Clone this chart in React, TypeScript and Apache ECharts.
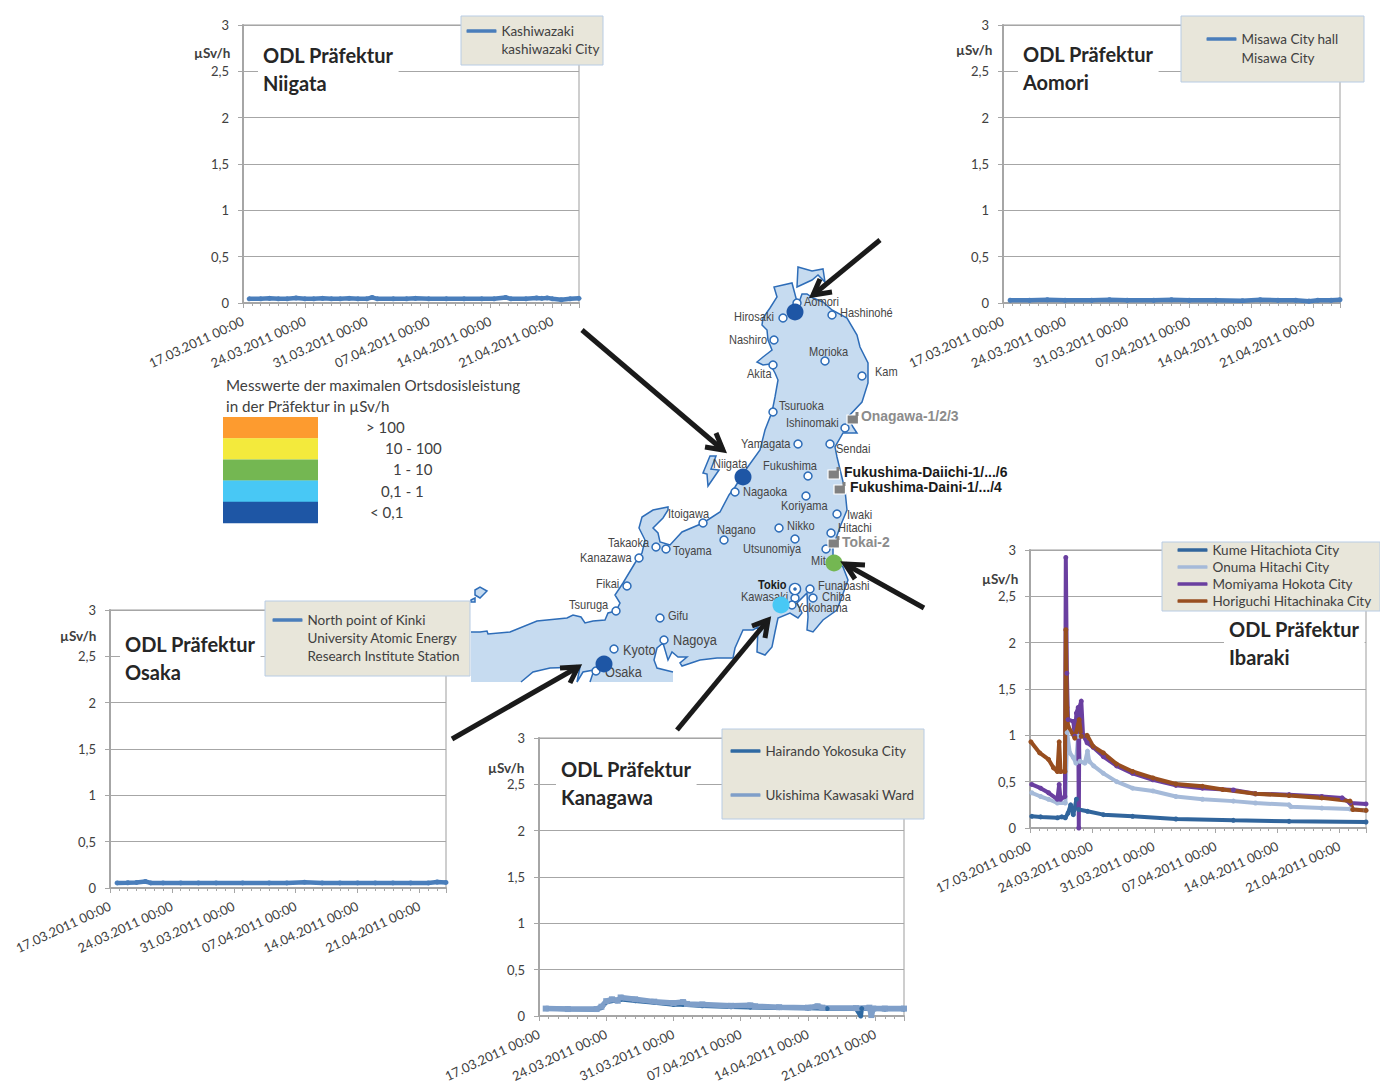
import React, { useEffect, useRef } from "react";
import * as echarts from "echarts";

const FONT = "Lato, 'Open Sans', sans-serif";
const MAPFONT = "'Liberation Sans', sans-serif";
const tickLabels = ["17.03.2011 00:00", "24.03.2011 00:00", "31.03.2011 00:00", "07.04.2011 00:00", "14.04.2011 00:00", "21.04.2011 00:00"];
const yTickValues = [0, 0.5, 1, 1.5, 2, 2.5, 3];

// x = days after 17.03.2011, y = µSv/h
const kashiwazaki = [[0.7,0.045],[2,0.045],[3,0.05],[4,0.045],[5,0.045],[6,0.055],[7,0.045],[8,0.045],[9,0.05],[10,0.045],[11,0.045],[12,0.05],[13,0.045],[14,0.045],[14.6,0.06],[15.2,0.045],[17,0.045],[18.5,0.045],[19.5,0.05],[21,0.045],[23,0.045],[25,0.045],[27,0.045],[28.4,0.045],[29.7,0.06],[30.3,0.045],[32,0.045],[33.2,0.055],[33.8,0.05],[34.4,0.055],[35,0.045],[36,0.035],[37,0.045],[38,0.05]];
const misawa = [[0.8,0.03],[3,0.03],[5,0.035],[7,0.03],[10,0.03],[12,0.035],[14,0.03],[17,0.03],[19,0.035],[21,0.03],[24,0.03],[27,0.025],[29,0.035],[31,0.03],[33,0.03],[34.5,0.02],[35.5,0.03],[37,0.03],[38,0.035]];
const kinki = [[0.8,0.055],[2,0.057],[3,0.06],[4,0.07],[4.6,0.055],[6,0.055],[8,0.055],[10,0.055],[12,0.055],[15,0.055],[18,0.055],[20,0.055],[22,0.063],[24,0.055],[26,0.055],[28,0.055],[30,0.055],[32,0.055],[34,0.055],[36,0.055],[37,0.065],[38,0.06]];
const hairando = [[0.7,0.08],[3,0.075],[6,0.07],[6.5,0.09],[7,0.15],[8,0.17],[8.5,0.18],[10,0.165],[12,0.145],[14,0.125],[15,0.125],[17,0.11],[20,0.1],[22,0.095],[25,0.09],[28,0.085],[30,0.08],[33,0.08],[33.5,0],[33.6,0.08],[36,0.075],[38,0.075]];
const ukishima = [[0.7,0.08],[3,0.075],[6,0.075],[6.5,0.1],[7,0.16],[7.6,0.18],[8.2,0.165],[8.5,0.2],[10,0.18],[12,0.155],[14,0.14],[15,0.15],[15.4,0.13],[17,0.125],[20,0.11],[22,0.115],[22.5,0.105],[25,0.095],[28,0.09],[29,0.105],[29.5,0.09],[33,0.085],[34.4,0.09],[34.6,0.01],[34.8,0.08],[36,0.08],[38,0.08]];
const kume = [[0.2,0.126],[1.2,0.12],[3.1,0.11],[3.6,0.12],[4,0.11],[4.3,0.16],[4.6,0.25],[4.9,0.144],[5.25,0.31],[5.5,0.2],[6.5,0.18],[8.3,0.144],[11.6,0.126],[16.5,0.097],[23,0.083],[29.3,0.072],[38,0.065]];
const onuma = [[0.2,0.38],[1.2,0.34],[2.1,0.31],[3.1,0.27],[4,0.27],[4.2,1.03],[4.5,0.81],[4.9,0.76],[5.2,0.7],[5.45,0.99],[5.65,0.72],[6.2,0.7],[6.5,0.83],[6.7,0.72],[7.2,0.67],[8.3,0.59],[9.8,0.5],[11.6,0.43],[13.9,0.4],[16.5,0.34],[19.5,0.31],[23,0.29],[25.5,0.27],[29.3,0.25],[29.5,0.23],[33,0.215],[36.2,0.205],[38,0.19]];
const momiyama = [[0.2,0.47],[1.2,0.43],[2.1,0.38],[3.1,0.31],[3.3,0.47],[3.45,0.31],[3.95,0.34],[4.05,2.92],[4.17,1.67],[4.3,1.17],[4.9,1.15],[5.07,0.99],[5.25,1.24],[5.45,1.3],[5.52,0],[5.58,1.3],[5.8,1.37],[6,1],[6.46,0.92],[7.15,0.87],[8.3,0.77],[9.8,0.67],[11.6,0.59],[13.9,0.52],[16.5,0.46],[19.5,0.43],[23,0.41],[25.5,0.37],[29.3,0.36],[33,0.34],[35.3,0.325],[36.2,0.27],[38,0.26]];
const horiguchi = [[0.1,0.93],[1.1,0.81],[2.1,0.74],[2.65,0.65],[3.1,0.61],[3.3,0.93],[3.45,0.61],[3.95,0.61],[4.05,2.14],[4.17,1.3],[4.3,1.1],[5.07,0.97],[5.56,1.17],[5.8,0.99],[6.46,1],[7.15,0.88],[8.3,0.81],[9.8,0.69],[11.6,0.61],[13.9,0.54],[16.5,0.475],[19.5,0.45],[21.8,0.415],[25.5,0.37],[29.3,0.35],[33,0.325],[36.2,0.29],[36.5,0.2],[38,0.19]];

const scaleColors = ["#fd9b2f", "#f3ea3c", "#74b752", "#48c8f5", "#1e56a5"];
const scaleLabels = ["> 100", "10 - 100", "1 - 10", "0,1 - 1", "< 0,1"];
const scaleTitle = ["Messwerte der maximalen Ortsdosisleistung", "in der Präfektur in µSv/h"];

const coast = [[471,632],[480,632],[487,631],[488,634],[510,632],[537,621],[567,618],[573,615],[581,617],[585,623],[593,621],[605,620],[608,613],[616,611],[620,603],[615,595],[623,583],[635,563],[642,553],[645,540],[639,528],[642,517],[653,510],[668,507],[668,510],[663,518],[653,528],[658,533],[660,542],[670,545],[682,532],[703,523],[720,512],[729,495],[735,487],[747,468],[760,450],[765,430],[772,412],[775,397],[778,380],[775,373],[770,364],[763,365],[757,362],[763,357],[772,350],[768,340],[767,330],[762,325],[763,318],[770,308],[777,297],[774,287],[783,285],[792,283],[796,298],[798,305],[802,294],[807,294],[813,298],[823,302],[832,310],[847,318],[857,335],[860,347],[868,363],[868,383],[862,402],[848,417],[853,427],[857,433],[843,433],[835,447],[837,457],[845,490],[847,510],[840,527],[833,547],[833,557],[843,567],[848,580],[837,610],[823,620],[813,632],[807,630],[808,617],[807,593],[797,603],[802,613],[798,618],[790,613],[778,618],[775,632],[772,647],[765,655],[757,652],[758,627],[753,630],[743,630],[735,648],[733,658],[717,658],[700,660],[682,666],[680,663],[687,657],[678,657],[672,652],[668,660],[663,643],[657,648],[654,660],[657,668],[673,672]];
const inlet = [[590,682],[594,670],[583,672],[577,682],[580,667],[550,668],[533,672],[521,682]];
const islands = [
  [[798,267],[812,271],[823,269],[825,282],[818,275],[812,280],[797,287]],
  [[710,456],[716,456],[711,469],[719,470],[708,486],[707,474],[703,473]],
  [[475,590],[480,587],[487,591],[480,598],[475,595]],
  [[471,600],[475,598],[475,602],[471,602]],
];
const cityDots = [[797,303],[783,318],[832,315],[774,340],[825,361],[773,365],[862,376],[773,412],[845,428],[798,444],[830,444],[808,476],[735,492],[806,496],[837,514],[703,523],[724,540],[779,528],[795,539],[831,533],[656,547],[666,549],[639,558],[826,549],[627,586],[810,589],[795,598],[813,598],[792,605],[616,611],[660,618],[664,640],[614,649],[596,671]];
const cityLabels: [string, number, number, number?][] = [["Aomori",804,302],["Hashinohé",840,313],["Hirosaki",734,317],["Nashiro",729,340],["Morioka",809,352],["Akita",747,374],["Kam",875,372],["Tsuruoka",779,406],["Ishinomaki",786,423],["Yamagata",741,444],["Sendai",836,449],["Niigata",713,464],["Fukushima",763,466],["Nagaoka",743,492],["Koriyama",781,506],["Iwaki",847,515],["Itoigawa",668,514],["Nagano",717,530],["Nikko",787,526],["Hitachi",838,528],["Takaoka",608,543],["Toyama",673,551],["Utsunomiya",743,549],["Kanazawa",580,558],["Mito",811,561],["Fikai",596,584],["Funabashi",818,586],["Kawasaki",741,597],["Chiba",822,597],["Yokohama",796,608],["Tsuruga",569,605],["Gifu",668,616],["Nagoya",673,640,15],["Kyoto",623,650,15],["Osaka",605,672,15]];
const plants: [string, number, number, number, number, string][] = [["Onagawa-1/2/3",861,416,847,413,"#8c8c8c"],["Fukushima-Daiichi-1/.../6",844,472,828,468,"#1a1a1a"],["Fukushima-Daini-1/.../4",850,487,834,483,"#1a1a1a"],["Tokai-2",842,542,828,537,"#8c8c8c"]];
const regionDots: [number, number, string][] = [[795,312,"#1e56a5"],[743,477,"#1e56a5"],[604,664,"#1e56a5"],[781,605,"#48c8f5"],[834,563,"#74b752"]];
const arrows = [
  [[582,330],[723,450],[705,447],[716,433]],
  [[880,240],[813,295],[832,292],[820,279]],
  [[452,739],[578,667],[560,668],[570,683]],
  [[677,730],[768,620],[752,626],[765,638]],
  [[924,608],[845,564],[865,565],[855,579]],
];

const axisGrey = "#a6a6a6";
const charts = [
  { l: 243, r: 579, t: 25, title: "ODL Präfektur\nNiigata", tx: 258, ty: 41, ux: 194, uy: 53 },
  { l: 1003, r: 1340, t: 25, title: "ODL Präfektur\nAomori", tx: 1018, ty: 40, ux: 956, uy: 50 },
  { l: 110, r: 446, t: 610, title: "ODL Präfektur\nOsaka", tx: 120, ty: 630, ux: 60, uy: 636 },
  { l: 539, r: 904, t: 738, title: "ODL Präfektur\nKanagawa", tx: 556, ty: 755, ux: 488, uy: 768 },
  { l: 1030, r: 1366, t: 550, title: "ODL Präfektur\nIbaraki", tx: 1224, ty: 615, ux: 982, uy: 579 },
];

const legends = [
  { names: ["Kashiwazaki\nkashiwazaki City"], left: 466.5, top: 4, lh: 18, gap: 0, lines: 2, box: [461, 16, 142, 49] },
  { names: ["Misawa City hall\nMisawa City"], left: 1206.5, top: 10.5, lh: 19, gap: 0, lines: 2, box: [1181, 16, 183, 66] },
  { names: ["North point of Kinki\nUniversity Atomic Energy\nResearch Institute Station"], left: 272.5, top: 575, lh: 18, gap: 0, lines: 3, box: [265, 601, 205, 75] },
  { names: ["Hairando Yokosuka City", "Ukishima Kawasaki Ward"], left: 730.5, top: 742, lh: 18, gap: 26, lines: 1, box: [722, 729, 202, 90] },
  { names: ["Kume Hitachiota City", "Onuma Hitachi City", "Momiyama Hokota City", "Horiguchi Hitachinaka City"], left: 1177.5, top: 541.5, lh: 17, gap: 0, lines: 1, box: [1162, 542, 218, 69] },
];

const seriesDefs = [
  { name: legends[0].names[0], idx: 0, data: kashiwazaki, color: "#4a7ebb", w: 4.5 },
  { name: legends[1].names[0], idx: 1, data: misawa, color: "#4a7ebb", w: 4.5 },
  { name: legends[2].names[0], idx: 2, data: kinki, color: "#4a7ebb", w: 4.5 },
  { name: legends[3].names[0], idx: 3, data: hairando, color: "#2f6aa3", w: 4.5 },
  { name: legends[3].names[1], idx: 3, data: ukishima, color: "#7f9fc9", w: 5.5, symbol: "rect" },
  { name: legends[4].names[0], idx: 4, data: kume, color: "#31659c", w: 4 },
  { name: legends[4].names[1], idx: 4, data: onuma, color: "#a5bad9", w: 4 },
  { name: legends[4].names[2], idx: 4, data: momiyama, color: "#6a3fa0", w: 4 },
  { name: legends[4].names[3], idx: 4, data: horiguchi, color: "#984e1f", w: 4 },
];

function buildGraphic() {
  const g: any[] = [];
  const txt = (text: string, x: number, y: number, o: any = {}) => ({
    type: "text", x, y, z: o.z ?? 7, scaleX: o.sx ?? 1,
    style: { text, fill: o.fill ?? "#404040", fontFamily: o.ff ?? FONT, fontSize: o.fs ?? 13, fontWeight: o.fw ?? "normal", verticalAlign: "middle", align: "left" },
  });
  g.push({ type: "polygon", z: 1, shape: { points: [...coast, [673, 682], ...inlet, [471, 682]] }, style: { fill: "#c6dbf0" } });
  g.push({ type: "polyline", z: 1, shape: { points: coast }, style: { stroke: "#2e6db8", lineWidth: 1.5, fill: "none" } });
  g.push({ type: "polyline", z: 1, shape: { points: inlet }, style: { stroke: "#2e6db8", lineWidth: 1.5, fill: "none" } });
  islands.forEach((p) => g.push({ type: "polygon", z: 1, shape: { points: p }, style: { fill: "#c6dbf0", stroke: "#2e6db8", lineWidth: 1.5 } }));
  cityDots.forEach(([cx, cy]) => g.push({ type: "circle", z: 1, shape: { cx, cy, r: 4 }, style: { fill: "#fff", stroke: "#2e6db8", lineWidth: 1.5 } }));
  g.push({ type: "circle", z: 1, shape: { cx: 795, cy: 589, r: 5.6 }, style: { fill: "#fff", stroke: "#2e6db8", lineWidth: 1.4 } });
  g.push({ type: "circle", z: 1, shape: { cx: 795, cy: 589, r: 1.8 }, style: { fill: "#2e6db8" } });
  cityLabels.forEach(([t, x, y, fs]) => g.push(txt(t, x, y - 0.5, { ff: MAPFONT, fs: fs ?? 13, fill: "#454545", sx: 0.85, z: 1 })));
  g.push(txt("Tokio", 758, 584.5, { ff: MAPFONT, fs: 13, fw: "bold", fill: "#1a1a1a", sx: 0.85, z: 1 }));
  regionDots.forEach(([cx, cy, c]) => g.push({ type: "circle", z: 2, shape: { cx, cy, r: 8.5 }, style: { fill: c } }));
  plants.forEach(([t, x, y, ix, iy, c]) => {
    g.push({ type: "rect", z: 2, shape: { x: ix, y: iy + 2, width: 11.5, height: 9 }, style: { fill: "#808080", stroke: "#fff", lineWidth: 1.2 } });
    g.push({ type: "rect", z: 2, shape: { x: ix + 8.5, y: iy - 1, width: 3, height: 4 }, style: { fill: "#808080" } });
    g.push(txt(t, x, y - 0.5, { ff: MAPFONT, fs: 15, fw: "bold", fill: c, sx: 0.93, z: 2 }));
  });
  arrows.forEach(([a, b, c, d]) => {
    g.push({ type: "line", z: 3, shape: { x1: a[0], y1: a[1], x2: b[0], y2: b[1] }, style: { stroke: "#1a1a1a", lineWidth: 5 } });
    g.push({ type: "polyline", z: 3, shape: { points: [c, b, d] }, style: { stroke: "#1a1a1a", lineWidth: 5, fill: "none" } });
  });
  scaleTitle.forEach((t, i) => g.push(txt(t, 226, 385 + i * 21, { fs: 15.2 })));
  const scaleX = [366, 385, 393, 381, 370];
  scaleColors.forEach((c, i) => {
    g.push({ type: "rect", z: 1, shape: { x: 223, y: 417 + i * 21.2, width: 95, height: 21.4 }, style: { fill: c } });
    g.push(txt(scaleLabels[i], scaleX[i], 427 + i * 21.2, { fs: 15 }));
  });
  charts.forEach((c) => g.push(txt("µSv/h", c.ux, c.uy, { fs: 13.5, fw: "bold" })));
  legends.forEach((l) => {
    const [x, y, width, height] = l.box;
    g.push({ type: "rect", z: 3, shape: { x, y, width, height }, style: { fill: "#e8e6da", stroke: "#b8cce4", lineWidth: 1 } });
  });
  return g;
}

function buildOption() {
  const H = 278;
  return {
    animation: false,
    backgroundColor: "#fff",
    grid: charts.map((c) => ({ left: c.l, top: c.t, width: c.r - c.l, height: H, show: true, borderColor: "#bfbfbf", borderWidth: 1.5, backgroundColor: "transparent" })),
    xAxis: charts.map((_, i) => ({
      type: "value", gridIndex: i, min: 0, max: 38, interval: 7,
      splitLine: { show: false },
      axisLine: { onZero: false, lineStyle: { color: axisGrey, width: 2 } },
      axisTick: { show: true, length: 5, lineStyle: { color: axisGrey } },
      minorTick: { show: true, splitNumber: 7, length: 3, lineStyle: { color: axisGrey } },
      axisLabel: { rotate: 25, margin: 17, color: "#404040", fontFamily: FONT, fontSize: 13, showMaxLabel: false, hideOverlap: false, formatter: (v: number) => tickLabels[v / 7] ?? "" },
    })),
    yAxis: charts.map((_, i) => ({
      type: "value", gridIndex: i, min: yTickValues[0], max: yTickValues[yTickValues.length - 1], interval: 0.5,
      splitLine: { show: true, lineStyle: { color: axisGrey, width: 1 } },
      axisLine: { show: true, onZero: false, lineStyle: { color: axisGrey, width: 2 } },
      axisTick: { show: true, length: 5, lineStyle: { color: axisGrey } },
      axisLabel: { margin: 14, color: "#404040", fontFamily: FONT, fontSize: 13, formatter: (v: number) => String(v).replace(".", ",") },
    })),
    title: charts.map((c) => ({
      text: c.title, left: c.tx, top: c.ty, padding: [0, 5, 0, 5], backgroundColor: "#fff", z: 2.5,
      textStyle: { fontFamily: FONT, fontWeight: "bold", fontSize: 20, lineHeight: 28, color: "#262626" },
    })),
    legend: legends.map((l) => ({
      data: l.names, left: l.left, top: l.top, orient: "vertical", padding: 0, icon: "roundRect", itemWidth: 30, itemHeight: 3.5, itemGap: l.gap, selectedMode: false, z: 4,
      formatter: (name: string) => "\n".repeat(l.lines - 1) + name,
      textStyle: { fontFamily: FONT, fontSize: 13.5, color: "#404040", lineHeight: l.lh },
    })),
    series: seriesDefs.map((s) => ({
      type: "line", name: s.name, xAxisIndex: s.idx, yAxisIndex: s.idx, data: s.data, clip: false,
      symbol: s.symbol ?? "circle", symbolSize: s.symbol ? 6 : 5, showAllSymbol: true,
      lineStyle: { color: s.color, width: s.w }, itemStyle: { color: s.color },
    })),
    graphic: { elements: buildGraphic() },
  };
}

export default function App() {
  const ref = useRef<HTMLDivElement>(null);
  useEffect(() => {
    document.body.style.margin = "0";
    const chart = echarts.init(ref.current!, undefined, { renderer: "svg" });
    chart.setOption(buildOption() as any);
    return () => chart.dispose();
  }, []);
  return <div ref={ref} style={{ position: "absolute", left: 0, top: 0, width: 1380, height: 1086 }} />;
}
